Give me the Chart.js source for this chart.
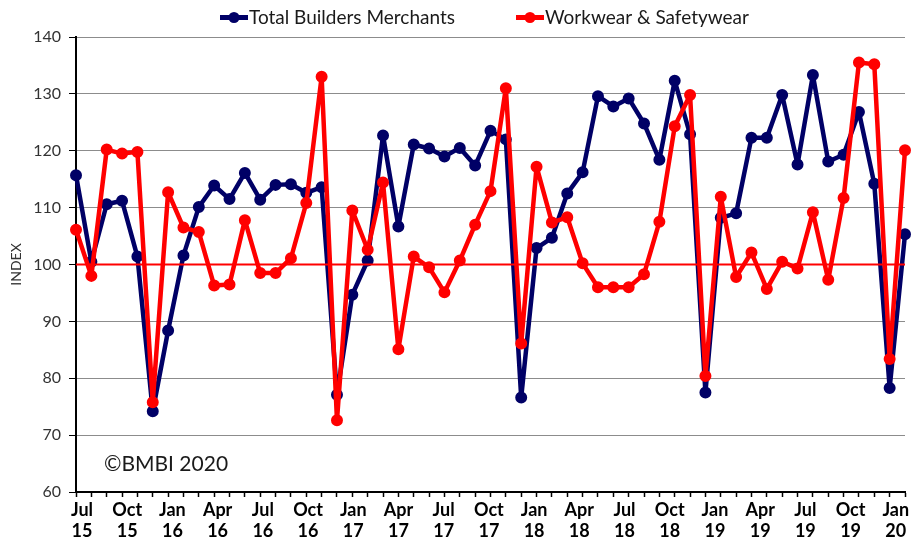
<!DOCTYPE html>
<html>
<head>
<meta charset="utf-8">
<script src="https://cdn.jsdelivr.net/npm/chart.js@4.4.1/dist/chart.umd.min.js"></script>
<style>
  html, body { margin: 0; padding: 0; background: #fff; }
</style>
</head>
<body>
<canvas id="chart" width="912" height="539"></canvas>
<script>
const months = [
    'Jul 15', 'Aug 15', 'Sep 15', 'Oct 15', 'Nov 15', 'Dec 15',
    'Jan 16', 'Feb 16', 'Mar 16', 'Apr 16', 'May 16', 'Jun 16', 'Jul 16', 'Aug 16', 'Sep 16', 'Oct 16', 'Nov 16', 'Dec 16',
    'Jan 17', 'Feb 17', 'Mar 17', 'Apr 17', 'May 17', 'Jun 17', 'Jul 17', 'Aug 17', 'Sep 17', 'Oct 17', 'Nov 17', 'Dec 17',
    'Jan 18', 'Feb 18', 'Mar 18', 'Apr 18', 'May 18', 'Jun 18', 'Jul 18', 'Aug 18', 'Sep 18', 'Oct 18', 'Nov 18', 'Dec 18',
    'Jan 19', 'Feb 19', 'Mar 19', 'Apr 19', 'May 19', 'Jun 19', 'Jul 19', 'Aug 19', 'Sep 19', 'Oct 19', 'Nov 19', 'Dec 19',
    'Jan 20'
];

const tickLabels = [
    ['Jul', '15'], ['Oct', '15'], ['Jan', '16'], ['Apr', '16'], ['Jul', '16'], ['Oct', '16'],
    ['Jan', '17'], ['Apr', '17'], ['Jul', '17'], ['Oct', '17'], ['Jan', '18'], ['Apr', '18'],
    ['Jul', '18'], ['Oct', '18'], ['Jan', '19'], ['Apr', '19'], ['Jul', '19'], ['Oct', '19'],
    ['Jan', '20']
];

const builders = [
    115.7, 100.5, 110.6, 111.2, 101.4, 74.2,
    88.4, 101.6, 110.1, 113.9, 111.5, 116.1, 111.4, 114.0, 114.1, 112.6, 113.6, 77.1,
    94.7, 100.7, 122.7, 106.7, 121.1, 120.4, 119.0, 120.5, 117.4, 123.5, 122.0, 76.6,
    102.9, 104.7, 112.5, 116.2, 129.6, 127.8, 129.2, 124.8, 118.4, 132.3, 122.9, 77.5,
    108.2, 109.0, 122.3, 122.3, 129.8, 117.6, 133.3, 118.1, 119.3, 126.8, 114.2, 78.3,
    105.3
];

const workwear = [
    106.1, 98.0, 120.2, 119.5, 119.8, 75.8,
    112.7, 106.5, 105.7, 96.3, 96.5, 107.8, 98.5, 98.5, 101.1, 110.8, 133.0, 72.6,
    109.5, 102.6, 114.4, 85.1, 101.4, 99.5, 95.1, 100.7, 107.0, 112.9, 131.0, 86.1,
    117.2, 107.4, 108.3, 100.2, 96.0, 96.0, 96.0, 98.3, 107.5, 124.3, 129.8, 80.4,
    111.9, 97.8, 102.1, 95.7, 100.5, 99.3, 109.2, 97.3, 111.7, 135.5, 135.2, 83.4,
    120.1
];

const seriesNames = ['Total Builders Merchants', 'Workwear & Safetywear'];
const referenceLevel = 100;
const credit = '\u00A9BMBI 2020';

const FONT = 'Lato, "Open Sans", sans-serif';
const NAVY = '#000066';
const RED = '#ff0000';

// the month labels in the original drift a little against the monthly ticks
const LABEL_START = 0.39, LABEL_STEP = 2.945;

var ctx = document.getElementById('chart').getContext('2d');

const overlay = {
    id: 'overlay',
    afterDatasetsDraw(chart) { // 100 line + copyright
        const c = chart.ctx, a = chart.chartArea;
        const py = chart.scales.y.getPixelForValue(referenceLevel);
        c.save();
        c.strokeStyle = RED;
        c.lineWidth = 2;
        c.beginPath();
        c.moveTo(a.left, py);
        c.lineTo(a.right, py);
        c.stroke();
        c.fillStyle = '#1a1a1a';
        c.font = '21px ' + FONT;
        c.textBaseline = 'alphabetic';
        c.fillText(credit, a.left + 28, a.bottom - 21);
        c.restore();
    }
};

const lineLegend = {
    id: 'lineLegend',
    afterDraw(chart) { // excel style legend: line with marker
        const c = chart.ctx;
        const xs = [220, 516];
        const y = 17.5;
        c.save();
        c.font = '19px ' + FONT;
        c.textBaseline = 'alphabetic';
        chart.data.datasets.forEach((ds, i) => {
            const x = xs[i];
            c.strokeStyle = ds.borderColor;
            c.lineWidth = 5;
            c.beginPath();
            c.moveTo(x, y);
            c.lineTo(x + 28, y);
            c.stroke();
            c.fillStyle = ds.borderColor;
            c.beginPath();
            c.arc(x + 14, y, 5.5, 0, Math.PI * 2);
            c.fill();
            c.fillStyle = '#1a1a1a';
            c.fillText(ds.label, x + 29, 23.5);
        });
        c.restore();
    }
};

var chart = new Chart(ctx, {
    type: 'line',
    data: {
        labels: months,
        datasets: [{
            label: seriesNames[0],
            data: builders,
            borderColor: NAVY,
            backgroundColor: NAVY,
            borderWidth: 4.5,
            borderJoinStyle: 'round',
            borderCapStyle: 'round',
            pointRadius: 5,
            pointBorderWidth: 2,
            pointHoverRadius: 5,
            tension: 0,
            clip: false,
            order: 1
        }, {
            label: seriesNames[1],
            data: workwear,
            borderColor: RED,
            backgroundColor: RED,
            borderWidth: 4.5,
            borderJoinStyle: 'round',
            borderCapStyle: 'round',
            pointRadius: 5,
            pointBorderWidth: 2,
            pointHoverRadius: 5,
            tension: 0,
            clip: false,
            order: 0
        }]
    },
    options: {
        responsive: false,
        animation: false,
        layout: { padding: { top: 37, right: 4, left: 0, bottom: 0 } },
        plugins: {
            legend: { display: false },
            tooltip: { enabled: false }
        },
        scales: {
            x: {
                type: 'category',
                offset: false,
                grid: { display: true, drawOnChartArea: false, drawTicks: true, tickLength: 5, tickColor: '#000', tickWidth: 1.5 },
                border: { color: '#000', width: 2 },
                ticks: { display: false },
                afterFit(s) { s.paddingLeft = 0; s.paddingRight = 0; }
            },
            xLabels: {
                type: 'linear',
                position: 'bottom',
                min: 0,
                max: months.length - 1,
                weight: 1,
                grid: { display: false, drawTicks: false },
                border: { display: false },
                ticks: {
                    autoSkip: false,
                    maxRotation: 0,
                    minRotation: 0,
                    padding: 2,
                    color: '#000',
                    font: { family: FONT, size: 18, weight: 'bold' },
                    callback: (v, i) => tickLabels[i]
                },
                afterBuildTicks(s) {
                    s.ticks = tickLabels.map((t, k) => ({ value: LABEL_START + k * LABEL_STEP }));
                },
                afterFit(s) { s.height = 42; s.paddingLeft = 0; s.paddingRight = 0; }
            },
            y: {
                min: 60,
                max: 140,
                ticks: { stepSize: 10, padding: 8, color: '#333', font: { family: FONT, size: 16 } },
                grid: { color: '#8c8c8c', lineWidth: 1, tickLength: 7, tickColor: '#000' },
                border: { color: '#000', width: 2 },
                title: {
                    display: true,
                    text: 'INDEX',
                    color: '#333',
                    font: { family: FONT, size: 14 },
                    padding: { top: 8, bottom: 0 }
                },
                afterFit(s) { s.width = 76; }
            }
        }
    },
    plugins: [overlay, lineLegend]
});
</script>
</body>
</html>
